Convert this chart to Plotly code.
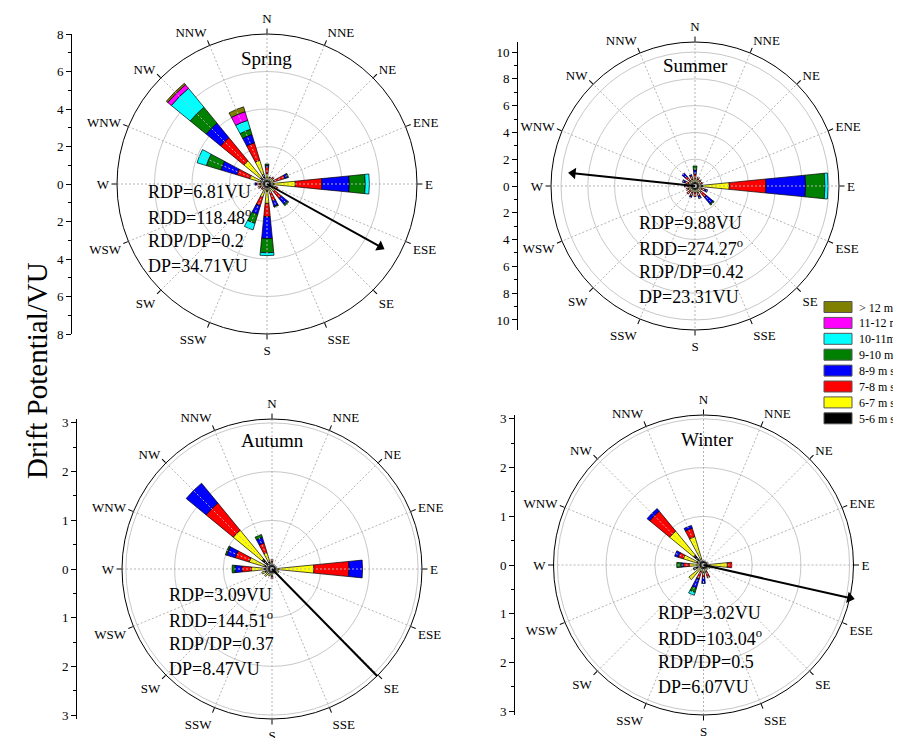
import plotly.graph_objects as go

W, H = 901, 738
OFF = 8  # the page body offsets the figure by 8 px
FONT = "Liberation Serif"

directions = ["N", "NNE", "NE", "ENE", "E", "ESE", "SE", "SSE",
              "S", "SSW", "SW", "WSW", "W", "WNW", "NW", "NNW"]
dir_angles = [i * 22.5 for i in range(16)]
minor_angles = [11.25 + i * 22.5 for i in range(16)]

speed_classes = ["5-6 m s<sup>-1</sup>", "6-7 m s<sup>-1</sup>", "7-8 m s<sup>-1</sup>",
                 "8-9 m s<sup>-1</sup>", "9-10 m s<sup>-1</sup>", "10-11m s<sup>-1</sup>",
                 "11-12 m s<sup>-1</sup>", "> 12 m s<sup>-1</sup>"]
class_colors = ["#000000", "#FFFF00", "#FF0000", "#0000FF", "#008000", "#00FFFF", "#FF00FF", "#808000"]

# drift potential per speed class (rows: 5-6 ... >12), columns follow `directions`
spring_dp = [
    [.20, .20, .25, .20, .36, .30, .30, .30, .40, .30, .20, .20, .25, .38, .50, .55],
    [.35, .15, .15, .20, 1.15, .15, .20, .20, .63, .43, .10, .15, .10, .58, 1.10, .77],
    [.35, .05, .10, .60, 1.42, .15, .50, .45, .72, .48, .10, .15, .20, .72, 1.60, .98],
    [.10, 0, 0, .15, 1.46, 0, .42, .30, 1.16, .49, 0, 0, .10, .89, 1.00, .46],
    [.07, 0, 0, .05, .85, 0, .08, .05, .76, .50, 0, 0, 0, .81, 1.10, .29],
    [0, 0, 0, 0, .22, 0, 0, 0, .15, .36, 0, 0, 0, .52, 1.30, .50],
    [0, 0, 0, 0, 0, 0, 0, 0, 0, 0, 0, 0, 0, 0, .25, .48],
    [0, 0, 0, 0, 0, 0, 0, 0, 0, 0, 0, 0, 0, 0, .10, .27],
]
summer_dp = [
    [.30, .30, .30, .30, .60, .30, .30, .30, .30, .30, .30, .30, .30, .30, .30, .30],
    [.30, .20, .20, .15, 1.96, .20, .30, .20, .20, .20, .20, .20, .20, .20, .20, .20],
    [.30, .20, .10, .15, 2.74, .30, .50, .30, .30, .30, .30, .20, .20, .30, .40, .30],
    [.30, 0, 0, 0, 2.96, .20, .65, .20, 0, .10, 0, 0, .10, .20, .35, .10],
    [.30, 0, 0, 0, 1.44, 0, .10, 0, 0, 0, 0, 0, 0, 0, 0, 0],
    [0, 0, 0, 0, .23, 0, 0, 0, 0, 0, 0, 0, 0, 0, 0, 0],
    [0] * 16,
    [0] * 16,
]
autumn_dp = [
    [.10, .10, .08, .10, .12, .10, .10, .10, .10, .10, .12, .15, .18, .19, .27, .16],
    [.05, 0, 0, 0, .74, .05, .02, 0, .05, .05, .08, .07, .24, .30, .76, .19],
    [.05, 0, 0, 0, .72, 0, 0, 0, .05, 0, 0, 0, .20, .30, .72, .21],
    [0, 0, 0, 0, .28, 0, 0, 0, 0, 0, 0, 0, .14, .18, .53, .12],
    [0, 0, 0, 0, 0, 0, 0, 0, 0, 0, 0, 0, .06, .03, 0, .06],
    [0] * 16,
    [0] * 16,
    [0] * 16,
]
winter_dp = [
    [.10, .08, .08, .10, .12, .12, .10, .10, .10, .10, .05, .22, .09, .15, .27, .13],
    [0, 0, 0, 0, .37, .03, .02, .05, .05, .05, .34, 0, .20, .28, .63, .48],
    [0, 0, 0, 0, .09, 0, 0, .13, .10, .15, 0, 0, .12, .11, .53, .18],
    [0, 0, 0, 0, 0, 0, 0, 0, .13, .20, 0, 0, .05, .08, .07, .06],
    [0, 0, 0, 0, 0, 0, 0, 0, 0, .09, 0, 0, .09, 0, 0, 0],
    [0, 0, 0, 0, 0, 0, 0, 0, 0, .06, 0, 0, 0, 0, 0, 0],
    [0] * 16,
    [0] * 16,
]

seasons = ["Spring", "Summer", "Autumn", "Winter"]
rdp = [6.81, 9.88, 3.09, 3.02]
rdd = [118.48, 274.27, 144.51, 103.04]
rdp_dp = [0.2, 0.42, 0.37, 0.5]
dp_total = [34.71, 23.31, 8.47, 6.07]
# resultant arrows as drawn in the picture
arrow_len = [6.9, 9.15, 3.1, 3.08]
arrow_dir = [119.0, 276.0, 135.5, 102.7]

radial_max = [8, 10.75, 3.08, 3.08]
radial_grid = [[2, 4, 6], [2, 4, 6, 8, 10], [1, 2, 3], [1, 2, 3]]
axis_major = [[-8, -6, -4, -2, 0, 2, 4, 6, 8], [-10, -8, -6, -4, -2, 0, 2, 4, 6, 8, 10],
              [-3, -2, -1, 0, 1, 2, 3], [-3, -2, -1, 0, 1, 2, 3]]
axis_minor = [1, 1, 0.5, 0.5]

# panel geometry in page pixels: centre x, centre y, radius, left axis x
panels = [(267, 184, 150, 72), (695, 186, 144, 518), (272, 569, 150, 77), (703.5, 565, 150, 515)]
stats_offset = [(-121, 8), (-58, 37), (-105, 26), (-48, 48)]
title_pos = [(266, 58), (695, 66), (272, 440), (707, 439)]

all_dp = [spring_dp, summer_dp, autumn_dp, winter_dp]


def px(x):
    return (x - OFF) / W


def py(y):
    return 1 - (y - OFF) / H


fig = go.Figure()
layout = dict(width=W, height=H, margin=dict(l=0, r=0, t=0, b=0),
              paper_bgcolor="white", plot_bgcolor="white", showlegend=False,
              font=dict(family=FONT, color="black"))
annotations = []
shapes = []

for k in range(4):
    cx, cy, R, ax_x = panels[k]
    rmax = radial_max[k]
    sub = "polar" if k == 0 else f"polar{k + 1}"
    layout[sub] = dict(
        domain=dict(x=[px(cx - R), px(cx + R)], y=[py(cy + R), py(cy - R)]),
        bgcolor="white",
        barmode="stack",
        angularaxis=dict(rotation=90, direction="clockwise", tickmode="array",
                         tickvals=dir_angles, ticktext=directions, showgrid=False,
                         showline=True, linecolor="black", linewidth=1,
                         ticks="outside", ticklen=5, tickcolor="black",
                         tickfont=dict(family=FONT, size=13, color="black")),
        radialaxis=dict(range=[0, rmax], showline=False, showticklabels=False, ticks="",
                        tickmode="array", tickvals=radial_grid[k], showgrid=True,
                        gridcolor="#c8c8c8", gridwidth=1),
    )
    # dashed spokes
    sr, st = [], []
    for a in dir_angles:
        sr += [0, rmax, None]
        st += [a, a, None]
    fig.add_trace(go.Scatterpolar(r=sr, theta=st, mode="lines", subplot=sub,
                                  line=dict(color="#b4b4b4", width=1, dash="2px,2px"),
                                  hoverinfo="skip", showlegend=False))
    # minor ticks on the outer ring
    mr, mt = [], []
    for a in minor_angles:
        mr += [rmax, rmax * (1 + 4.5 / R), None]
        mt += [a, a, None]
    fig.add_trace(go.Scatterpolar(r=mr, theta=mt, mode="lines", subplot=sub, cliponaxis=False,
                                  line=dict(color="black", width=1),
                                  hoverinfo="skip", showlegend=False))
    # stacked bars
    for c in range(8):
        fig.add_trace(go.Barpolar(r=all_dp[k][c], theta=dir_angles, width=[11.25] * 16,
                                  subplot=sub, name=speed_classes[c],
                                  marker=dict(color=class_colors[c],
                                              line=dict(color="black", width=0.7)),
                                  showlegend=False))
    # resultant arrow
    fig.add_trace(go.Scatterpolar(r=[0, arrow_len[k]], theta=[arrow_dir[k], arrow_dir[k]],
                                  mode="lines", subplot=sub, cliponaxis=False,
                                  line=dict(color="black", width=2), showlegend=False,
                                  hoverinfo="skip"))
    fig.add_trace(go.Scatterpolar(r=[arrow_len[k]], theta=[arrow_dir[k]], mode="markers",
                                  subplot=sub, cliponaxis=False,
                                  marker=dict(symbol="triangle-up", size=10, color="black",
                                              angle=arrow_dir[k]),
                                  showlegend=False, hoverinfo="skip"))
    # left drift potential scale
    xn = "xaxis" if k == 0 else f"xaxis{k + 1}"
    yn = "yaxis" if k == 0 else f"yaxis{k + 1}"
    xa = "x" if k == 0 else f"x{k + 1}"
    ya = "y" if k == 0 else f"y{k + 1}"
    layout[xn] = dict(domain=[px(ax_x), px(ax_x) + 0.005], visible=False, range=[0, 1],
                      anchor=ya, fixedrange=True)
    layout[yn] = dict(domain=[py(cy + R), py(cy - R)], anchor=xa, automargin=False,
                      range=[-rmax, rmax], showline=True, linecolor="black", linewidth=1,
                      ticks="outside", ticklen=5, tickcolor="black", showgrid=False,
                      zeroline=False, tickmode="array", tickvals=axis_major[k],
                      ticktext=[str(abs(v)) for v in axis_major[k]],
                      tickfont=dict(family=FONT, size=13, color="black"), fixedrange=True,
                      minor=dict(dtick=axis_minor[k], ticks="outside", ticklen=3,
                                 tickcolor="black", showgrid=False))
    fig.add_trace(go.Scatter(x=[0.5], y=[0], xaxis=xa, yaxis=ya, mode="markers",
                             marker=dict(opacity=0, size=1), hoverinfo="skip",
                             showlegend=False))
    # title
    tx, ty = title_pos[k]
    annotations.append(dict(x=px(tx), y=py(ty), xref="paper", yref="paper",
                            text=seasons[k], showarrow=False, xanchor="center",
                            yanchor="middle", font=dict(family=FONT, size=19)))
    # stats text
    ox, oy = stats_offset[k]
    lines = [f"RDP={rdp[k]}VU", f"RDD={rdd[k]}<sup>o</sup>", f"RDP/DP={rdp_dp[k]}",
             f"DP={dp_total[k]}VU"]
    for j, t in enumerate(lines):
        annotations.append(dict(x=px(cx + ox), y=py(cy + oy + 24.5 * j),
                                xref="paper", yref="paper", text=t, showarrow=False,
                                xanchor="left", yanchor="middle",
                                font=dict(family=FONT, size=18)))

# global y title
annotations.append(dict(x=px(37), y=py(371), xref="paper", yref="paper",
                        text="Drift Potential/VU", textangle=-90, showarrow=False,
                        xanchor="center", yanchor="middle", font=dict(family=FONT, size=29)))

# custom legend (top = > 12 m/s)
for i in range(8):
    c = 7 - i
    yc = 307 + 15.9 * i
    shapes.append(dict(type="rect", xref="paper", yref="paper",
                       x0=px(824), x1=px(852), y0=py(yc + 5.5), y1=py(yc - 5.5),
                       fillcolor=class_colors[c], line=dict(color="#555555", width=1)))
    annotations.append(dict(x=px(857), y=py(yc), xref="paper", yref="paper",
                            text=speed_classes[c], showarrow=False, xanchor="left",
                            yanchor="middle", font=dict(family=FONT, size=12)))

layout["annotations"] = annotations
layout["shapes"] = shapes
fig.update_layout(**layout)
fig.write_html("out.html")
